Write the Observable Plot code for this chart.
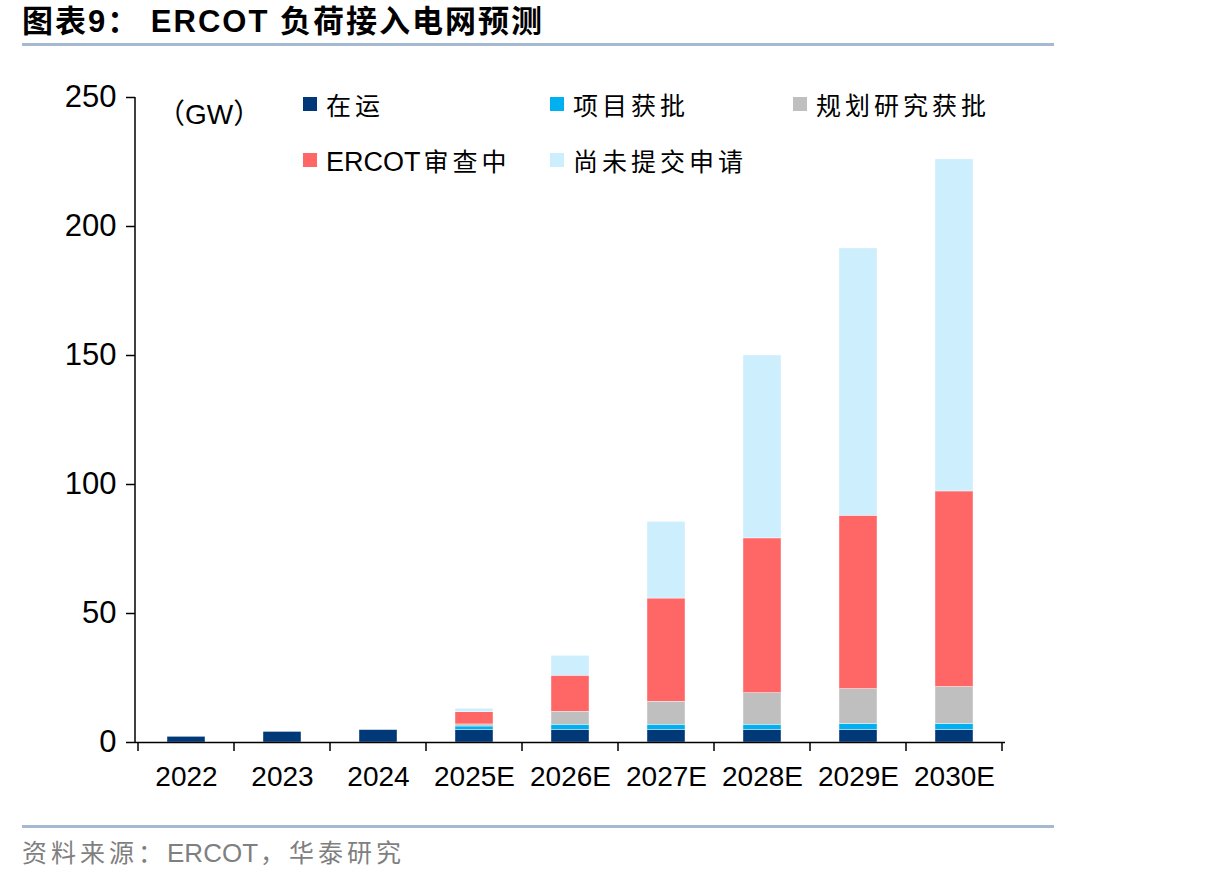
<!DOCTYPE html>
<html><head><meta charset="utf-8">
<script src="https://cdn.jsdelivr.net/npm/d3@7"></script>
<script src="https://cdn.jsdelivr.net/npm/@observablehq/plot@0.6"></script>
<style>
body{margin:0;background:#fff;font-family:"Liberation Sans","Noto Sans CJK SC",sans-serif;}
#wrap{position:relative;width:1206px;height:881px;overflow:hidden;background:#fff}
#title{position:absolute;left:22px;top:4px;font-size:31px;font-weight:bold;color:#000;white-space:nowrap;line-height:36px;letter-spacing:2px}
.hr{position:absolute;left:22px;width:1032px;height:3px;background:#a5b9d0}
#chart{position:absolute;left:0;top:46px}
#unit{position:absolute;left:157px;top:92px;font-size:28px;color:#000}
.lg{position:absolute;display:flex;align-items:center;font-size:25px;color:#000;letter-spacing:4px;white-space:nowrap}
.sw{width:14px;height:14px;margin-right:9px}
.lat{letter-spacing:0;font-size:27px;margin-right:3px}
#source{position:absolute;left:22px;top:833px;font-size:25px;color:#7f7f7f;white-space:nowrap;letter-spacing:4px}
#source .lat{font-size:26px;margin-right:2px}
</style></head>
<body>
<div id="wrap">
  <div id="title">图表9： ERCOT 负荷接入电网预测</div>
  <div class="hr" style="top:43px"></div>
  <div id="chart"></div>
  <div id="unit">（GW）</div>
  <div id="legend"></div>
  <div class="hr" style="top:825px"></div>
  <div id="source">资料来源：<span class="lat">ERCOT</span>，华泰研究</div>
</div>
<script>
const years = ["2022","2023","2024","2025E","2026E","2027E","2028E","2029E","2030E"];
const seriesNames = ["在运","项目获批","规划研究获批","ERCOT审查中","尚未提交申请"];
const seriesColors = ["#003878","#00b0f0","#bfbfbf","#ff6666","#cdeefc"];
const inOperation   = [2.2, 4.1, 4.8, 4.9, 4.9, 4.9, 4.9, 4.9, 4.9];
const approved      = [0, 0, 0, 1.3, 2.0, 2.0, 2.0, 2.3, 2.3];
const studyApproved = [0, 0, 0, 0.8, 5.0, 8.9, 12.2, 13.5, 14.3];
const ercotReview   = [0, 0, 0, 4.7, 14.0, 40.0, 60.0, 67.2, 75.8];
const notSubmitted  = [0, 0, 0, 1.4, 7.7, 29.7, 70.9, 103.6, 128.7];
const yTicks = [0, 50, 100, 150, 200, 250];

const seriesValues = [inOperation, approved, studyApproved, ercotReview, notSubmitted];
const data = years.flatMap((yr, i) => seriesNames.map((s, k) => ({year: yr, series: s, value: seriesValues[k][i]})));

const plot = Plot.plot({
  width: 1206, height: 769,
  marginLeft: 135, marginRight: 201, marginTop: 51, marginBottom: 73,
  style: {fontFamily: '"Liberation Sans", sans-serif', color: "#000", background: "transparent"},
  x: {domain: years, paddingInner: 0.6, paddingOuter: 0.3, label: null},
  y: {domain: [0, 250], label: null},
  color: {domain: seriesNames, range: seriesColors},
  marks: [
    Plot.barY(data, {x: "year", y: "value", fill: "series", stroke: "#fff", strokeWidth: 0.4}),
    Plot.ruleY([0], {stroke: "#000", strokeWidth: 1.5}),
    Plot.axisY({ticks: yTicks, tickSize: 9, tickPadding: 10, fontSize: 31, strokeWidth: 1.5, label: null}),
    Plot.axisX({tickSize: 0, tickPadding: 24, fontSize: 28, label: null})
  ]
});
document.getElementById("chart").appendChild(plot);

// axis line and category boundary ticks from the plot's own scales
const xs = plot.scale("x"), ys = plot.scale("y");
const svg = d3.select(plot);
const g = svg.append("g").attr("stroke", "#000").attr("stroke-width", 1.5);
const x0 = xs.range[0];
g.append("line").attr("x1", x0).attr("x2", x0).attr("y1", ys.apply(0)).attr("y2", ys.apply(250));
const half = (xs.step - xs.bandwidth) / 2;
const bounds = years.map(d => xs.apply(d) - half).concat([xs.apply(years[years.length - 1]) + xs.bandwidth + half]);
bounds.forEach(b => g.append("line").attr("x1", b).attr("x2", b).attr("y1", ys.apply(0)).attr("y2", ys.apply(0) + 9));

// legend (HTML, placed over the plot area)
const legend = document.getElementById("legend");
const legendPos = [[303, 86], [550, 86], [793, 86], [303, 142], [550, 142]];
seriesNames.forEach((s, i) => {
  const el = document.createElement("div");
  el.className = "lg";
  el.style.left = legendPos[i][0] + "px";
  el.style.top = legendPos[i][1] + "px";
  const label = s.replace(/([A-Za-z]+)/g, '<span class="lat">$1</span>');
  el.innerHTML = `<div class="sw" style="background:${seriesColors[i]}"></div><span>${label}</span>`;
  legend.appendChild(el);
});
</script>
</body></html>
